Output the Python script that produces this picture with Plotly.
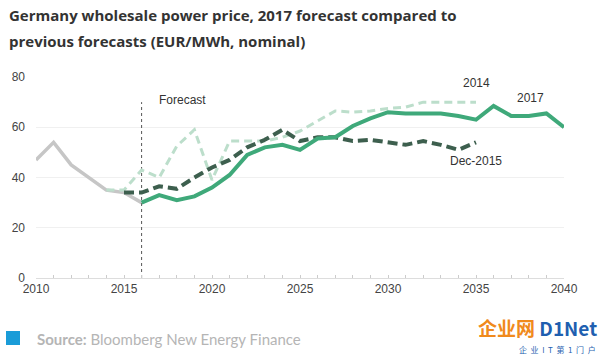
import plotly.graph_objects as go

hist_years = [2010, 2011, 2012, 2013, 2014, 2015, 2016]
hist_vals = [47, 54, 45, 40, 35, 34, 30]

f2017_years = list(range(2016, 2041))
f2017_vals = [30, 33, 31, 32.5, 36, 41, 49, 52, 53, 51, 55.5, 56, 60.5, 63.5, 66,
              65.5, 65.5, 65.5, 64.5, 63, 68.5, 64.5, 64.5, 65.5, 60]

dec2015_years = list(range(2015, 2036))
dec2015_vals = [34, 34, 36.5, 35.5, 40, 44, 47, 52, 55, 59, 54.5, 56, 56, 54.5, 55,
                54, 53, 54.5, 53, 51, 54]

f2014_years = list(range(2014, 2036))
f2014_vals = [35, 35, 43, 40, 52.5, 59, 39, 54.5, 54.5, 54.5, 56, 58.5, 62.5, 66.5,
              66, 66.5, 67.5, 68, 70, 70, 70, 70]

x_ticks = [2010, 2015, 2020, 2025, 2030, 2035, 2040]
y_ticks = [0, 20, 40, 60, 80]
forecast_year = 2016
forecast_top = 70

W, H = 600, 356
ML, MR, MT, MB = 36, 36, 77, 78
PW, PH = W - ML - MR, H - MT - MB


def px(x):
    return (x - ML) / PW


def py(y):
    return (H - MB - y) / PH


fig = go.Figure()
fig.add_trace(go.Scatter(x=[forecast_year, forecast_year], y=[0, forecast_top], mode="lines",
                         line=dict(color="#555555", width=1, dash="dot"), hoverinfo="skip"))
fig.add_trace(go.Scatter(x=hist_years, y=hist_vals, mode="lines",
                         line=dict(color="#c6c6c6", width=3.5)))
fig.add_trace(go.Scatter(x=f2014_years, y=f2014_vals, mode="lines",
                         line=dict(color="#bcdecb", width=3, dash="8px,5px")))
fig.add_trace(go.Scatter(x=dec2015_years, y=dec2015_vals, mode="lines",
                         line=dict(color="#3d5f4e", width=4, dash="10px,5px")))
fig.add_trace(go.Scatter(x=f2017_years, y=f2017_vals, mode="lines",
                         line=dict(color="#3fa97a", width=4)))

fig.update_layout(
    width=W, height=H,
    margin=dict(l=ML, r=MR, t=MT, b=MB, autoexpand=False),
    paper_bgcolor="white", plot_bgcolor="white",
    showlegend=False,
    font=dict(family="Liberation Sans, Arial", color="#444444", size=12),
    xaxis=dict(range=[2010, 2040], tickvals=x_ticks, ticktext=[str(t) for t in x_ticks],
               showgrid=False, showline=True, linecolor="#dddddd", zeroline=False,
               ticks="inside", ticklen=3, tickcolor="#cccccc",
               minor=dict(dtick=1, ticks="inside", ticklen=3, tickcolor="#cccccc"),
               tickfont=dict(size=12, color="#444444")),
    yaxis=dict(range=[0, 80], tickvals=y_ticks, showgrid=True, gridcolor="#f0f0f0",
               zeroline=False, showline=False, ticks="", ticklabelstandoff=10,
               tickfont=dict(size=12, color="#444444")),
)

anns = [
    dict(x=2018.3, y=70.8, text="Forecast"),
    dict(x=2035.05, y=77.6, text="2014"),
    dict(x=2038.1, y=71.6, text="2017"),
    dict(x=2035.0, y=46.4, text="Dec-2015"),
]
for a in anns:
    fig.add_annotation(x=a["x"], y=a["y"], xref="x", yref="y", text=a["text"], showarrow=False,
                       font=dict(size=12, color="#333333"), xanchor="center", yanchor="middle")

title_font = dict(family="Open Sans, Lato, sans-serif", size=15, color="#333333")
fig.add_annotation(x=px(7), y=py(15), xref="paper", yref="paper", showarrow=False,
                   xanchor="left", yanchor="middle",
                   text="<b>Germany wholesale power price, 2017 forecast compared to</b>",
                   font=title_font)
fig.add_annotation(x=px(7), y=py(41), xref="paper", yref="paper", showarrow=False,
                   xanchor="left", yanchor="middle",
                   text="<b>previous forecasts (EUR/MWh, nominal)</b>",
                   font=title_font)

fig.add_shape(type="rect", xref="paper", yref="paper",
              x0=px(6), x1=px(20), y0=py(345), y1=py(331),
              line=dict(width=0), fillcolor="#1a9cd8")
fig.add_annotation(xref="paper", yref="paper", x=px(35), y=py(339), xanchor="left", yanchor="middle",
                   showarrow=False,
                   text="<b>Source:</b> Bloomberg New Energy Finance",
                   font=dict(family="Lato, Open Sans, sans-serif", size=15, color="#b5b5b5"))
fig.add_annotation(xref="paper", yref="paper", x=px(599), y=py(327), xanchor="right", yanchor="middle",
                   showarrow=False,
                   text="<b><span style='color:#f08a1c'>企业网</span> <span style='color:#1f5fb0'>D1Net</span></b>",
                   font=dict(family="Noto Sans CJK SC", size=19))
fig.add_annotation(xref="paper", yref="paper", x=px(598), y=py(349), xanchor="right", yanchor="middle",
                   showarrow=False,
                   text="企  业  I  T  第  1  门  户",
                   font=dict(family="Noto Sans CJK SC", size=8, color="#1f5fb0"))

fig.write_html("out.html", post_script="document.body.style.margin='0';",
               config={"displayModeBar": False})
